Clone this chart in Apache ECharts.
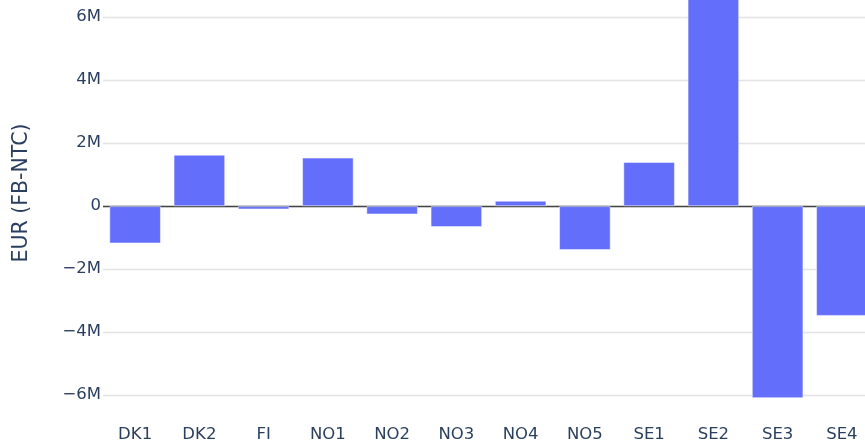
<!DOCTYPE html>
<html>
<head>
<meta charset="utf-8">
<script src="https://cdn.jsdelivr.net/npm/echarts@6/dist/echarts.min.js"></script>
<style>
  html, body { margin: 0; padding: 0; overflow: hidden; background: #fff; width: 865px; height: 448px; }
  /* plot is a bit larger than the window, like the cropped original */
  #chart { position: absolute; left: 0; top: -34px; width: 880px; height: 482px; }
</style>
</head>
<body>
<div id="chart"></div>
<script>
// bidding zones
const zones = ['DK1', 'DK2', 'FI', 'NO1', 'NO2', 'NO3', 'NO4', 'NO5', 'SE1', 'SE2', 'SE3', 'SE4']
// EUR (FB-NTC) difference per zone
const diffEur = [-1180000, 1630000, -100000, 1540000, -260000, -660000, 170000, -1390000, 1400000, 6900000, -6090000, -3480000]
// y range of the plot
const yMin = -6787000
const yMax = 7625000
const yStep = 2000000

const font = 'Verdana, "DejaVu Sans", sans-serif'
const textColor = '#2a3f5f'

let myChart = echarts.init(document.getElementById('chart'))
myChart.setOption({
  animation: false,
  textStyle: { fontFamily: font },
  grid: {
    left: 103,
    right: 6,
    top: 0,
    bottom: 28
  },
  xAxis: {
    type: 'category',
    data: zones,
    axisLine: { show: false, onZero: false },
    axisTick: { show: false },
    axisLabel: {
      color: textColor,
      fontSize: 16.5,
      fontFamily: font,
      margin: 6
    }
  },
  yAxis: {
    type: 'value',
    min: yMin,
    max: yMax,
    minInterval: yStep,
    maxInterval: yStep,
    name: 'EUR (FB-NTC)',
    nameLocation: 'middle',
    nameGap: 71,
    nameTextStyle: { color: textColor, fontSize: 20.5, fontFamily: font },
    axisLine: { show: false },
    axisTick: { show: false },
    axisLabel: {
      color: textColor,
      fontSize: 16.5,
      fontFamily: font,
      margin: 2,
      showMinLabel: false,
      showMaxLabel: false,
      formatter: function (v) {
        if (Math.abs(v % yStep) > 1) return ''
        if (v === 0) return '0'
        return (v < 0 ? '\u2212' : '') + Math.abs(v) / 1e6 + 'M'
      }
    },
    splitLine: {
      showMinLine: false,
      showMaxLine: false,
      lineStyle: { color: '#e3e3e3', width: 1.3 }
    }
  },
  series: [
    {
      type: 'bar',
      data: diffEur,
      barCategoryGap: '20%',
      itemStyle: {
        color: '#636efa',
        borderColor: 'rgba(255,255,255,0.6)',
        borderWidth: 0.8
      },
      // zero line, under the bars
      markLine: {
        z: 1,
        silent: true,
        symbol: 'none',
        label: { show: false },
        lineStyle: { color: '#444', width: 1.3, type: 'solid' },
        data: [{ yAxis: 0 }]
      }
    }
  ]
})
</script>
</body>
</html>
